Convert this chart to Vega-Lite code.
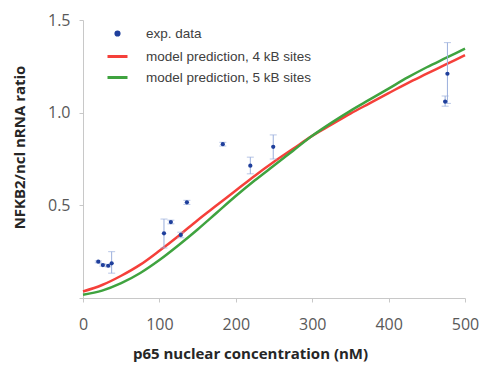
{
  "$schema": "https://vega.github.io/schema/vega-lite/v6.json",
  "width": 382,
  "height": 278,
  "autosize": {"type": "none"},
  "padding": {"left": 83, "top": 20, "right": 14, "bottom": 69},
  "background": "white",
  "config": {
    "view": {"stroke": null},
    "axis": {
      "grid": false,
      "domainColor": "#c8c8c8",
      "tickColor": "#c8c8c8",
      "tickSize": 4,
      "labelFont": "Open Sans",
      "labelFontSize": 16,
      "labelColor": "#595959",
      "titleFont": "Open Sans",
      "titleFontSize": 15,
      "titleFontWeight": "bold",
      "titleColor": "#262626"
    }
  },
  "datasets": {
    "pts": [
      {"conc": 20, "ratio": 0.196, "lo": 0.19, "hi": 0.2},
      {"conc": 26, "ratio": 0.178, "lo": 0.172, "hi": 0.184},
      {"conc": 33, "ratio": 0.174, "lo": 0.168, "hi": 0.18},
      {"conc": 37.5, "ratio": 0.187, "lo": 0.134, "hi": 0.25},
      {"conc": 106, "ratio": 0.349, "lo": 0.27, "hi": 0.426},
      {"conc": 115, "ratio": 0.41, "lo": 0.4, "hi": 0.42},
      {"conc": 128, "ratio": 0.34, "lo": 0.325, "hi": 0.355},
      {"conc": 136, "ratio": 0.516, "lo": 0.505, "hi": 0.527},
      {"conc": 183, "ratio": 0.83, "lo": 0.82, "hi": 0.84},
      {"conc": 219, "ratio": 0.714, "lo": 0.67, "hi": 0.76},
      {"conc": 249, "ratio": 0.816, "lo": 0.75, "hi": 0.88},
      {"conc": 474, "ratio": 1.06, "lo": 1.035, "hi": 1.09},
      {"conc": 477, "ratio": 1.21, "lo": 1.05, "hi": 1.378}
    ],
    "curves": [
      {"series": "model prediction, 4 kB sites", "conc": 0, "ratio": 0.035},
      {"series": "model prediction, 4 kB sites", "conc": 25, "ratio": 0.07},
      {"series": "model prediction, 4 kB sites", "conc": 50, "ratio": 0.12},
      {"series": "model prediction, 4 kB sites", "conc": 75, "ratio": 0.18},
      {"series": "model prediction, 4 kB sites", "conc": 100, "ratio": 0.255},
      {"series": "model prediction, 4 kB sites", "conc": 125, "ratio": 0.335},
      {"series": "model prediction, 4 kB sites", "conc": 150, "ratio": 0.42},
      {"series": "model prediction, 4 kB sites", "conc": 175, "ratio": 0.5},
      {"series": "model prediction, 4 kB sites", "conc": 200, "ratio": 0.58},
      {"series": "model prediction, 4 kB sites", "conc": 225, "ratio": 0.66},
      {"series": "model prediction, 4 kB sites", "conc": 250, "ratio": 0.735},
      {"series": "model prediction, 4 kB sites", "conc": 275, "ratio": 0.805},
      {"series": "model prediction, 4 kB sites", "conc": 300, "ratio": 0.875},
      {"series": "model prediction, 4 kB sites", "conc": 325, "ratio": 0.935},
      {"series": "model prediction, 4 kB sites", "conc": 350, "ratio": 0.995},
      {"series": "model prediction, 4 kB sites", "conc": 375, "ratio": 1.05},
      {"series": "model prediction, 4 kB sites", "conc": 400, "ratio": 1.105},
      {"series": "model prediction, 4 kB sites", "conc": 425, "ratio": 1.16},
      {"series": "model prediction, 4 kB sites", "conc": 450, "ratio": 1.21},
      {"series": "model prediction, 4 kB sites", "conc": 475, "ratio": 1.26},
      {"series": "model prediction, 4 kB sites", "conc": 500, "ratio": 1.31},
      {"series": "model prediction, 5 kB sites", "conc": 0, "ratio": 0.018},
      {"series": "model prediction, 5 kB sites", "conc": 25, "ratio": 0.04},
      {"series": "model prediction, 5 kB sites", "conc": 50, "ratio": 0.08},
      {"series": "model prediction, 5 kB sites", "conc": 75, "ratio": 0.135},
      {"series": "model prediction, 5 kB sites", "conc": 100, "ratio": 0.205},
      {"series": "model prediction, 5 kB sites", "conc": 125, "ratio": 0.285},
      {"series": "model prediction, 5 kB sites", "conc": 150, "ratio": 0.37},
      {"series": "model prediction, 5 kB sites", "conc": 175, "ratio": 0.46},
      {"series": "model prediction, 5 kB sites", "conc": 200, "ratio": 0.55},
      {"series": "model prediction, 5 kB sites", "conc": 225, "ratio": 0.635},
      {"series": "model prediction, 5 kB sites", "conc": 250, "ratio": 0.715},
      {"series": "model prediction, 5 kB sites", "conc": 275, "ratio": 0.795},
      {"series": "model prediction, 5 kB sites", "conc": 300, "ratio": 0.875},
      {"series": "model prediction, 5 kB sites", "conc": 325, "ratio": 0.945},
      {"series": "model prediction, 5 kB sites", "conc": 350, "ratio": 1.01},
      {"series": "model prediction, 5 kB sites", "conc": 375, "ratio": 1.07},
      {"series": "model prediction, 5 kB sites", "conc": 400, "ratio": 1.13},
      {"series": "model prediction, 5 kB sites", "conc": 425, "ratio": 1.19},
      {"series": "model prediction, 5 kB sites", "conc": 450, "ratio": 1.245},
      {"series": "model prediction, 5 kB sites", "conc": 475, "ratio": 1.295},
      {"series": "model prediction, 5 kB sites", "conc": 500, "ratio": 1.345}
    ]
  },
  "encoding": {
    "x": {
      "field": "conc", "type": "quantitative",
      "scale": {"domain": [0, 500], "nice": false},
      "axis": {
        "title": "p65 nuclear concentration (nM)",
        "values": [0, 100, 200, 300, 400, 500],
        "labelPadding": 14,
        "labelFlush": false,
        "titleX": 167,
        "titleY": 55,
        "titleBaseline": "middle",
        "titleAlign": "center"
      }
    }
  },
  "layer": [
    {
      "data": {"name": "curves"},
      "mark": {"type": "line", "strokeWidth": 2.5, "interpolate": "monotone"},
      "encoding": {
        "y": {
          "field": "ratio", "type": "quantitative",
          "title": "NFKB2/ncl nRNA ratio",
          "scale": {"domain": [0, 1.5], "nice": false},
          "axis": {
            "values": [0, 0.5, 1.0, 1.5],
            "labelExpr": "datum.value == 0 ? '' : format(datum.value, '.1f')",
            "labelPadding": 9,
            "labelFlush": false,
            "titleX": -64,
            "titleY": 127,
            "titleBaseline": "middle",
            "titleAlign": "center",
            "titleAngle": -90
          }
        },
        "color": {
          "field": "series", "type": "nominal",
          "scale": {
            "domain": ["exp. data", "model prediction, 4 kB sites", "model prediction, 5 kB sites"],
            "range": ["#1f3f9c", "#f5403a", "#3fa33f"]
          },
          "legend": {
            "title": null,
            "orient": "none",
            "legendX": 23,
            "legendY": 2,
            "padding": 0,
            "symbolType": "stroke",
            "symbolSize": 400,
            "symbolStrokeWidth": 3,
            "rowPadding": 3,
            "labelOffset": 17,
            "labelFont": "Liberation Sans",
            "labelFontSize": 13.5,
            "labelColor": "#404040",
            "labelLimit": 300,
            "encode": {
              "symbols": {
                "enter": {
                  "shape": {"signal": "datum.value === 'exp. data' ? 'circle' : 'stroke'"},
                  "size": {"signal": "datum.value === 'exp. data' ? 10 : 400"},
                  "fill": {"signal": "datum.value === 'exp. data' ? '#6a2e92' : 'transparent'"},
                  "stroke": {"signal": "datum.value === 'exp. data' ? 'transparent' : (datum.value === 'model prediction, 4 kB sites' ? '#f5403a' : '#3fa33f')"},
                  "strokeWidth": {"value": 3},
                  "opacity": {"value": 1}
                },
                "update": {
                  "shape": {"signal": "datum.value === 'exp. data' ? 'circle' : 'stroke'"},
                  "size": {"signal": "datum.value === 'exp. data' ? 10 : 400"},
                  "fill": {"signal": "datum.value === 'exp. data' ? '#6a2e92' : 'transparent'"},
                  "stroke": {"signal": "datum.value === 'exp. data' ? 'transparent' : (datum.value === 'model prediction, 4 kB sites' ? '#f5403a' : '#3fa33f')"},
                  "strokeWidth": {"value": 3},
                  "opacity": {"value": 1}
                }
              }
            }
          }
        }
      }
    },
    {
      "data": {"name": "pts"},
      "mark": {"type": "errorbar", "ticks": {"size": 7}, "color": "#9aaedc", "thickness": 1},
      "encoding": {
        "y": {"field": "lo", "type": "quantitative", "title": "NFKB2/ncl nRNA ratio"},
        "y2": {"field": "hi"}
      }
    },
    {
      "data": {"name": "pts"},
      "mark": {"type": "point", "filled": true, "size": 18, "opacity": 1},
      "encoding": {
        "y": {"field": "ratio", "type": "quantitative", "title": "NFKB2/ncl nRNA ratio"},
        "color": {"datum": "exp. data"}
      }
    }
  ]
}
